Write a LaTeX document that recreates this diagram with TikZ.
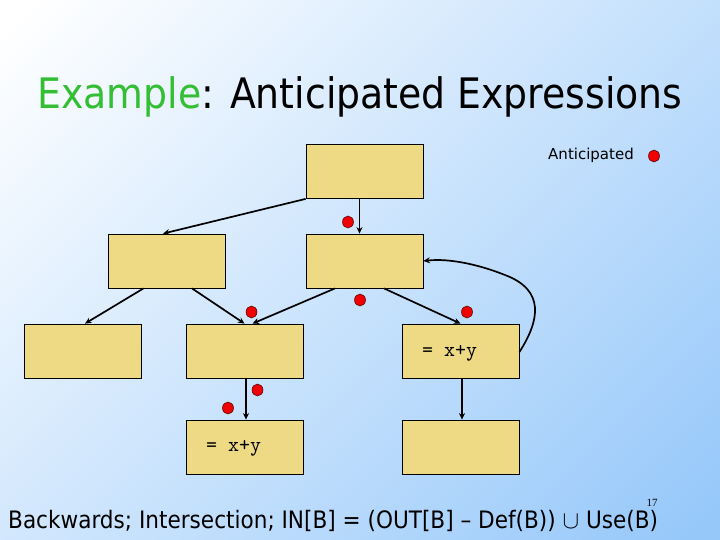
\documentclass[tikz,border=0pt]{standalone}
\usepackage{fontspec}
\setmainfont{DejaVu Sans}
\newfontfamily\titlefont{DejaVu Sans Condensed}
\newfontfamily\numfont{Liberation Serif}
\usetikzlibrary{arrows.meta,shapes.geometric}
\definecolor{bgA}{RGB}{255,255,255}
\definecolor{bgB}{RGB}{150,200,250}
\definecolor{boxfill}{RGB}{238,218,132}
\definecolor{titlegreen}{RGB}{51,190,51}
\definecolor{dotred}{RGB}{240,0,0}
\newcommand{\codetext}[1]{\resizebox{55pt}{!}{\ttfamily #1}}
\tikzset{
  block/.style={draw=black, line width=0.8pt, fill=boxfill, minimum width=117pt, minimum height=54pt, inner sep=0pt},
  flow/.style={draw=black, line width=1.7pt, -{Stealth[length=6.5pt,width=6pt]}},
  antdot/.style={ellipse, draw=black!70!red, line width=0.5pt, fill=dotred, minimum width=11pt, minimum height=12pt, inner sep=0pt},
  codetxt/.style={inner sep=0pt, anchor=base west}
}
\begin{document}
\begin{tikzpicture}[x=1pt,y=-1pt]
\useasboundingbox (0,0) rectangle (720,540);
\shade[top color=bgA, bottom color=bgB, shading angle=45] (-110,-110) rectangle (830,650);
\node[font=\titlefont\fontsize{42}{42}\selectfont, inner sep=0pt] (title) at (360,97) {\textcolor{titlegreen}{Example}: Anticipated Expressions};
\node[font=\fontsize{15}{15}\selectfont, inner sep=0pt, anchor=east] (legend) at (634,155) {Anticipated};
\node[antdot] (legdot) at (654,156) {};
\node[block] (top) at (364.5,171.5) {};
\node[block] (ml) at (166.5,261) {};
\node[block] (mr) at (364.5,261) {};
\node[block] (bl) at (82.5,351) {};
\node[block] (bm) at (244.5,351) {};
\node[block] (br) at (460.5,351) {};
\node[block] (cl) at (244.5,447) {};
\node[block] (cr) at (460.5,447) {};
\node[codetxt] (t1) at (422,356) {\codetext{= x+y}};
\node[codetxt] (t2) at (206,451) {\codetext{= x+y}};
\draw[flow] (top.south west) -- ([xshift=-3.5pt]ml.north);
\draw[flow] ([xshift=-5pt]top.south) -- ([xshift=-5pt]mr.north);
\draw[flow] ([xshift=-23pt]ml.south) -- ([xshift=2.5pt]bl.north);
\draw[flow] ([xshift=25.5pt]ml.south) -- ([xshift=0pt]bm.north);
\draw[flow] ([xshift=-29.5pt]mr.south) -- ([xshift=8pt]bm.north);
\draw[flow] ([xshift=19.5pt]mr.south) -- ([xshift=0pt]br.north);
\draw[flow] ([xshift=1.5pt]bm.south) -- ([xshift=1.5pt]cl.north);
\draw[flow] ([xshift=1.5pt]br.south) -- ([xshift=1.5pt]cr.north);
\draw[flow] ([yshift=-1pt]br.east) .. controls (540,320) and (545,290) .. (505,275) .. controls (480,265) and (450,258) .. (mr.east);
\node[antdot] (d1) at (348,222) {};
\node[antdot] (d2) at (251.5,312) {};
\node[antdot] (d3) at (360,300) {};
\node[antdot] (d4) at (467,312) {};
\node[antdot] (d5) at (257.5,390) {};
\node[antdot] (d6) at (228,408) {};
\node[font=\titlefont\fontsize{24}{24}\selectfont, inner sep=0pt, anchor=base west] (formula) at (8,528) {Backwards; Intersection; IN[B] = (OUT[B] – Def(B)) $\cup$ Use(B)};
\node[font=\numfont\fontsize{11}{11}\selectfont, inner sep=0pt] (pg) at (652,503) {17};
\end{tikzpicture}
\end{document}
